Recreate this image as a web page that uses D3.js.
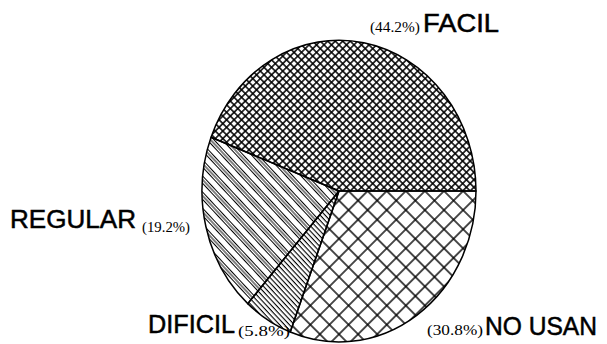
<!DOCTYPE html>
<html>
<head>
<meta charset="utf-8">
<script src="https://cdn.jsdelivr.net/npm/d3@7/dist/d3.min.js"></script>
<style>
  html, body { margin: 0; padding: 0; background: #fff; }
  svg { display: block; }
</style>
</head>
<body>
<svg id="chart" width="607" height="344"></svg>
<script>
// Data (reading order, counter-clockwise from 3 o'clock)
const categories = ["FACIL", "REGULAR", "DIFICIL", "NO USAN"];
const values = [44.2, 19.2, 5.8, 30.8];
const percentLabels = ["(44.2%)", "(19.2%)", "(5.8%)", "(30.8%)"];

const W = 607, H = 344;
const cx = 339, cy = 191, rx = 137, ry = 151;

const svg = d3.select("#chart");
const defs = svg.append("defs");

const inv = `scale(${1/rx},${1/ry})`;

function linePattern(id, period, offsets, angle, sw) {
  const p = defs.append("pattern")
    .attr("id", id)
    .attr("patternUnits", "userSpaceOnUse")
    .attr("width", 40).attr("height", period)
    .attr("patternTransform", `${inv} rotate(${angle})`);
  offsets.forEach(o => {
    p.append("line").attr("x1", 0).attr("x2", 40)
      .attr("y1", o).attr("y2", o)
      .attr("stroke", "#000").attr("stroke-width", sw);
  });
}
function crossPattern(id, period, sw) {
  const p = defs.append("pattern")
    .attr("id", id)
    .attr("patternUnits", "userSpaceOnUse")
    .attr("width", period).attr("height", period)
    .attr("patternTransform", `${inv} rotate(45)`);
  p.append("line").attr("x1", 0).attr("x2", period).attr("y1", period/2).attr("y2", period/2)
    .attr("stroke", "#000").attr("stroke-width", sw);
  p.append("line").attr("y1", 0).attr("y2", period).attr("x1", period/2).attr("x2", period/2)
    .attr("stroke", "#000").attr("stroke-width", sw);
}

crossPattern("pFacil", 5.3, 1.5);
crossPattern("pNoUsan", 13.5, 1.4);
linePattern("pRegular", 11, [1.5, 4.0, 6.5], 47, 1.15);
linePattern("pDificil", 3.6, [1.5], 47, 1.0);

const fills = ["url(#pFacil)", "url(#pRegular)", "url(#pDificil)", "url(#pNoUsan)"];

const pie = d3.pie().sort(null)
  .startAngle(Math.PI / 2)
  .endAngle(Math.PI / 2 - 2 * Math.PI);
const arcs = pie(values);
const arc = d3.arc().innerRadius(0).outerRadius(1);

const g = svg.append("g").attr("transform", `translate(${cx},${cy}) scale(${rx},${ry})`);
g.selectAll("path.slice").data(arcs).enter().append("path")
  .attr("class", "slice")
  .attr("d", arc)
  .attr("fill", (d, i) => fills[i])
  .attr("stroke", "#000")
  .attr("stroke-width", 1.5)
  .attr("vector-effect", "non-scaling-stroke")
  .attr("stroke-linejoin", "round");

// Labels
const big = "'Liberation Sans', Arial, sans-serif";
const small = "'Liberation Serif', 'Times New Roman', serif";

const labelSpecs = [
  { name: { x: 423, w: 76, y: 32 }, pct: { x: 370, w: 50, y: 32 } },
  { name: { x: 10, w: 126, y: 228 }, pct: { x: 142, w: 48, y: 232 } },
  { name: { x: 148, w: 87, y: 333 }, pct: { x: 238, w: 52, y: 336 } },
  { name: { x: 485, w: 112, y: 335 }, pct: { x: 427, w: 56, y: 335 } }
];

categories.forEach((c, i) => {
  const s = labelSpecs[i];
  svg.append("text")
    .attr("x", s.name.x).attr("y", s.name.y)
    .attr("font-family", big).attr("font-size", 25)
    .attr("textLength", s.name.w).attr("lengthAdjust", "spacingAndGlyphs")
    .attr("fill", "#000").attr("stroke", "#000").attr("stroke-width", 0.5)
    .text(c);
  svg.append("text")
    .attr("x", s.pct.x).attr("y", s.pct.y)
    .attr("font-family", small).attr("font-size", 15.5)
    .attr("textLength", s.pct.w).attr("lengthAdjust", "spacingAndGlyphs")
    .attr("fill", "#000")
    .text(percentLabels[i]);
});
</script>
</body>
</html>
